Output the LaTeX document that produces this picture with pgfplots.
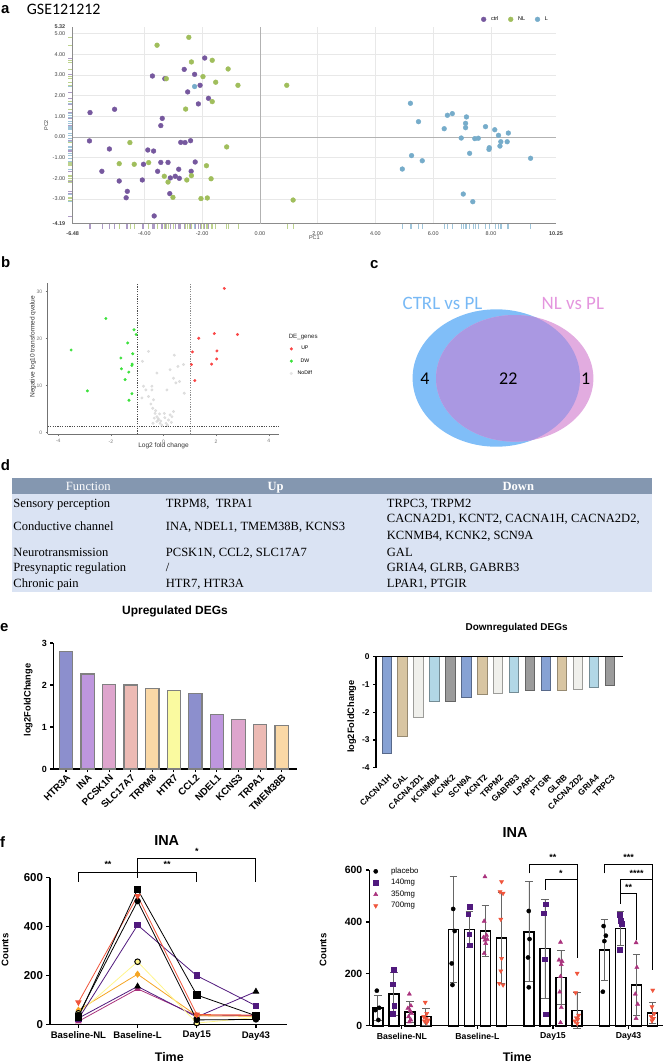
\documentclass[border=0pt]{standalone}
\usepackage{pgfplots}
\pgfplotsset{compat=1.18}
\usepackage{pgfplotstable}
\usepackage{fontspec}
\setmainfont{Liberation Sans}
\newfontfamily\tnr{Liberation Serif}
\newfontfamily\cali{Carlito}
\newcommand{\fs}[1]{\fontsize{#1}{#1}\selectfont}

\definecolor{cctrl}{RGB}{118,88,158}
\definecolor{cnl}{RGB}{160,190,92}
\definecolor{cl}{RGB}{118,172,202}
\definecolor{vred}{RGB}{250,70,70}
\definecolor{vgreen}{RGB}{60,225,60}
\definecolor{vgray}{RGB}{212,212,212}
\definecolor{vnblue}{RGB}{128,190,248}
\definecolor{vnpink}{RGB}{226,172,224}
\definecolor{vnpurp}{RGB}{170,152,226}
\definecolor{tctrl}{RGB}{120,185,245}
\definecolor{tnl}{RGB}{228,150,222}
\definecolor{thdr}{RGB}{132,151,176}
\definecolor{tbdy}{RGB}{218,227,243}
\definecolor{u1}{RGB}{140,143,205}
\definecolor{u2}{RGB}{190,150,222}
\definecolor{u3}{RGB}{222,165,205}
\definecolor{u4}{RGB}{236,186,180}
\definecolor{u5}{RGB}{250,216,166}
\definecolor{u6}{RGB}{250,250,160}
\definecolor{d1}{RGB}{135,162,212}
\definecolor{d2}{RGB}{216,197,162}
\definecolor{d3}{RGB}{240,240,236}
\definecolor{d4}{RGB}{178,215,230}
\definecolor{d5}{RGB}{155,155,155}
\definecolor{fpurp}{RGB}{80,25,125}
\definecolor{fmag}{RGB}{170,50,125}
\definecolor{fred}{RGB}{240,85,60}
\definecolor{forange}{RGB}{245,165,35}
\definecolor{fyel}{RGB}{255,245,140}

% ---------- panel a data ----------
\pgfplotstableread{
x y
-5.88 1.18
-5.03 1.34
-5.90 -0.19
-5.21 -0.58
-5.47 -1.66
-4.87 -2.13
-4.59 -2.63
-4.63 -2.94
-3.72 2.95
-3.29 2.82
-3.38 0.90
-3.43 0.55
-3.88 -0.63
-3.68 -0.68
-4.03 -1.32
-4.07 -2.08
-3.43 -1.23
-3.18 -1.23
-3.54 -1.66
-3.66 -3.82
-3.10 -1.98
-2.93 -1.90
-2.79 -2.00
-2.81 -1.56
-3.12 -2.74
-2.62 3.27
-2.50 2.18
-2.26 3.03
-2.07 2.50
-1.91 3.82
-1.78 1.87
-2.13 1.60
-2.74 -0.26
-2.59 -0.27
-2.40 -0.18
-2.24 -1.21
-2.38 -1.66
}\ctrltab
\pgfplotstableread{
x y
-2.46 4.82
-3.56 4.44
-2.37 3.63
-1.65 3.71
-1.10 3.29
-1.97 2.92
-3.24 2.82
-1.53 2.65
-0.76 2.50
0.93 2.50
-1.65 1.71
-2.57 1.35
-4.50 -0.27
-4.87 -1.29
-4.35 -1.32
-3.85 -1.24
-3.31 -1.90
-3.18 -2.18
-3.01 -2.92
-2.53 -2.08
-2.37 -1.87
-1.85 -1.39
-1.69 -2.02
-2.04 -2.98
-1.82 -2.95
-1.15 -0.48
1.15 -3.05
}\nltab
\pgfplotstableread{
x y
-2.26 2.44
5.21 1.63
6.49 1.05
6.66 1.13
5.49 0.74
6.38 0.40
7.15 0.97
7.12 0.66
7.12 0.45
7.81 0.50
8.13 0.35
8.26 0.08
8.60 0.19
6.97 -0.05
7.44 -0.08
7.56 -0.06
8.34 -0.23
8.56 -0.23
8.31 -0.44
7.94 -0.52
7.93 -0.60
5.25 -0.90
5.62 -1.15
7.26 -0.79
4.93 -1.55
9.37 -1.03
7.04 -2.76
7.37 -3.13
}\ltab

\begin{document}
\begin{tikzpicture}
\useasboundingbox (0,0) rectangle (664bp,-1062bp);

% ---------- panel letters ----------
\begin{scope}[every node/.style={anchor=base west, inner sep=0pt, font=\bfseries\fs{15}}]
\node at (1bp,-13bp) {a};
\node at (1bp,-267bp) {b};
\node at (370bp,-268bp) {c};
\node at (0.7bp,-470bp) {d};
\node at (0bp,-631bp) {e};
\node at (0bp,-847bp) {f};
\end{scope}
\node[anchor=base west, inner sep=0pt, font=\cali\fs{16}] at (26.7bp,-14bp) {GSE121212};

% ---------- panel a ----------
\begin{axis}[at={(72.7bp,-223.6bp)}, anchor=south west, scale only axis,
  width=483.3bp, height=196.6bp,
  xmin=-6.48, xmax=10.25, ymin=-4.19, ymax=5.32, clip=false,
  axis x line*=bottom, axis y line*=left,
  axis line style={black!45, line width=0.4bp},
  xtick={-4,-2,0,2,4,6,8},
  xticklabels={-4.00,-2.00,0.00,2.00,4.00,6.00,8.00},
  extra x ticks={-6.48,10.25},
  extra x tick labels={\textbf{-6.48},\textbf{10.25}},
  extra x tick style={grid=none},
  ytick={-3,-2,-1,0,1,2,3,4,5},
  yticklabels={-3.00,-2.00,-1.00,0.00,1.00,2.00,3.00,4.00,5.00},
  extra y ticks={-4.19,5.32},
  extra y tick labels={\textbf{-4.19},\textbf{5.32}},
  extra y tick style={grid=none},
  grid=major, major grid style={black!9, line width=0.4bp},
  major tick length=0pt,
  tick label style={font=\fs{5.5}, text=black!75},
  xticklabel style={yshift=-4.5bp},
  yticklabel style={xshift=-4bp},
  xlabel={PC1}, ylabel={PC2},
  xlabel style={at={(axis description cs:0.5,-0.073)}, anchor=center, font=\fs{5.5}, text=black!75},
  ylabel style={at={(axis description cs:-0.055,0.5)}, anchor=center, font=\fs{5.5}, text=black!75},
  legend style={at={(axis description cs:0.845,1.039)}, anchor=west, draw=none, fill=none,
    font=\fs{5.5}, inner sep=0pt, legend columns=-1,
    /tikz/every odd column/.append style={column sep=3bp},
    /tikz/every even column/.append style={column sep=8bp}},
  legend image code/.code={\draw[#1] plot coordinates {(0bp,0bp)};},
]
\draw[black!30, line width=0.5bp] (axis cs:0,-4.19) -- (axis cs:0,5.32);
\draw[black!30, line width=0.5bp] (axis cs:-6.48,0) -- (axis cs:10.25,0);
\addplot[only marks, mark=*, mark size=2.4pt, cctrl, mark options={draw=cctrl}] table {\ctrltab};
\addplot[only marks, mark=*, mark size=2.4pt, cnl, mark options={draw=cnl}] table {\nltab};
\addplot[only marks, mark=*, mark size=2.4pt, cl, mark options={draw=cl}] table {\ltab};
\legend{ctrl,NL,L}
\addplot[only marks, mark=|, mark size=2.1pt, cctrl!60, forget plot, mark options={line width=0.5bp}] table[x=x, y expr=-4.33] {\ctrltab};
\addplot[only marks, mark=|, mark size=2.1pt, cnl!70, forget plot, mark options={line width=0.5bp}] table[x=x, y expr=-4.33] {\nltab};
\addplot[only marks, mark=|, mark size=2.1pt, cl!70, forget plot, mark options={line width=0.5bp}] table[x=x, y expr=-4.33] {\ltab};
\addplot[only marks, mark=-, mark size=1.7pt, cctrl!60, forget plot, mark options={line width=0.5bp}] table[x expr=-6.58, y=y] {\ctrltab};
\addplot[only marks, mark=-, mark size=1.7pt, cnl!70, forget plot, mark options={line width=0.5bp}] table[x expr=-6.58, y=y] {\nltab};
\addplot[only marks, mark=-, mark size=1.7pt, cl!70, forget plot, mark options={line width=0.5bp}] table[x expr=-6.58, y=y] {\ltab};
\end{axis}

% ---------- panel b : volcano ----------
\begin{axis}[at={(47.7bp,-434bp)}, anchor=south west, scale only axis,
  width=231.6bp, height=151bp,
  xmin=-4.4, xmax=4.4, ymin=-0.28, ymax=31.86, clip=false,
  axis x line*=bottom, axis y line*=left,
  axis line style={black!55, line width=0.5bp},
  tick style={black!55, line width=0.5bp}, tick align=outside, major tick length=2bp,
  xtick={-4,-2,0,2,4}, xticklabels={-4,-2,0,2,4},
  ytick={0,10,20,30}, yticklabels={0,10,20,30},
  tick label style={font=\fs{5}, text=black!55},
  xlabel={Log2 fold change}, ylabel={Negative log10 transformed qvalue},
  xlabel style={at={(axis description cs:0.5,-0.079)}, anchor=center, font=\fs{6.6}, text=black!80},
  ylabel style={at={(axis description cs:-0.0635,0.578)}, anchor=center, font=\fs{6.6}, text=black!80},
  legend style={at={(axis description cs:1.045,0.595)}, anchor=north west, draw=none, fill=none,
    font=\fs{5.2}, row sep=3.2bp, inner sep=0pt,
    /tikz/every odd column/.append style={column sep=3bp}},
  legend image code/.code={\draw[#1] plot coordinates {(0bp,0bp)};},
]
\addlegendimage{only marks, mark=*, mark size=1.4pt, vred}
\addlegendentry{UP}
\addlegendimage{only marks, mark=*, mark size=1.4pt, vgreen}
\addlegendentry{DW}
\addlegendimage{only marks, mark=*, mark size=1.4pt, vgray!60}
\addlegendentry{NoDiff}
\draw[black!70, line width=0.45bp, dash pattern=on 1.2bp off 1.2bp] (axis cs:-1,-0.28) -- (axis cs:-1,31.86);
\draw[black!45, line width=0.45bp, dash pattern=on 1.2bp off 1.2bp] (axis cs:1,-0.28) -- (axis cs:1,31.86);
\draw[black!70, line width=0.45bp, dash pattern=on 1.2bp off 1.2bp] (axis cs:-4.4,1.3) -- (axis cs:4.4,1.3);
\addplot[only marks, mark=*, mark size=1.3pt, vgray, opacity=0.7, forget plot] coordinates {
(-0.80,15.2) (-0.57,17.3) (0.41,16.5) (-0.76,9.9) (-0.67,9.1) (-0.57,7.7) (-0.48,6.1)
(-0.41,5.2) (-0.32,4.1) (-0.25,3.4) (-0.19,2.7) (-0.13,2.0) (-0.25,2.4) (-0.35,3.1)
(-0.06,1.6) (0.32,3.4) (0.25,3.8) (0.38,4.5) (0.38,11.6) (0.47,10.6) (0.61,10.9)
(0.79,8.4) (0.76,14.5) (0.13,9.1) (-0.82,7.4) (-0.38,7.0) (0.25,13.4) (-0.44,9.1)
(0.03,4.1) (-0.15,4.0) (0.19,2.7) (-0.30,4.7) (0.10,2.0) (-0.44,9.9) (-0.25,12.7)
(0.55,14.1) (-0.20,3.0) (-0.10,2.5) (0.05,3.2) (0.30,2.2) (-0.40,2.0) (0.15,1.6)};
\addplot[only marks, mark=*, mark size=1.3pt, vgreen, forget plot] coordinates {
(-2.19,24.3) (-3.51,17.6) (-2.89,8.9) (-1.12,21.9) (-1.04,20.9) (-1.36,19.1)
(-1.62,15.9) (-1.17,16.8) (-1.60,13.6) (-1.19,14.6) (-1.20,14.3) (-1.32,12.9)
(-1.46,11.3) (-1.20,8.3) (-1.31,6.9)};
\addplot[only marks, mark=*, mark size=1.3pt, vred, forget plot] coordinates {
(2.31,30.7) (1.93,21.1) (2.81,20.9) (1.34,20.1) (1.10,17.2) (2.03,17.4)
(2.02,15.7) (1.83,14.6) (1.06,14.5) (1.19,11.1)};
\node[anchor=west, inner sep=0pt, font=\fs{6.2}, text=black!85] at (axis description cs:1.04,0.64) {DE\_genes};
\end{axis}

% ---------- panel c : Venn ----------
\begin{axis}[at={(380bp,-460bp)}, anchor=south west, x=1bp, y=1bp,
  xmin=380, xmax=620, ymin=-460, ymax=-290, hide axis, clip=false]
\fill[vnblue] (axis cs:496.3,-378) ellipse [x radius=83.7bp, y radius=68.7bp];
\fill[vnpink] (axis cs:514.7,-378.3) ellipse [x radius=78.7bp, y radius=63.3bp];
\begin{scope}
\clip (axis cs:496.3,-378) ellipse [x radius=83.7bp, y radius=68.7bp];
\fill[vnpurp] (axis cs:514.7,-378.3) ellipse [x radius=78.7bp, y radius=63.3bp];
\end{scope}
\node[anchor=base, inner sep=0pt, font=\cali\fs{19}, text=tctrl] at (axis cs:442.5,-309.3) {CTRL vs PL};
\node[anchor=base, inner sep=0pt, font=\cali\fs{19}, text=tnl] at (axis cs:572.8,-309.3) {NL vs PL};
\node[anchor=base, inner sep=0pt, font=\cali\fs{18}] at (axis cs:425,-384) {4};
\node[anchor=base, inner sep=0pt, font=\cali\fs{18}] at (axis cs:508.3,-384) {22};
\node[anchor=base, inner sep=0pt, font=\cali\fs{18}] at (axis cs:585.7,-384) {1};
\end{axis}

% ---------- panel d : table ----------
\fill[thdr] (12.3bp,-477.7bp) rectangle (651.7bp,-493.7bp);
\fill[tbdy] (12.3bp,-493.7bp) rectangle (651.7bp,-591.7bp);
\begin{scope}[every node/.style={inner sep=0pt, font=\tnr\fs{12.6}}]
\node[anchor=base, text=white] at (88.3bp,-490bp) {Function};
\node[anchor=base, text=white, font=\tnr\bfseries\fs{12.6}] at (275.7bp,-490bp) {Up};
\node[anchor=base, text=white, font=\tnr\bfseries\fs{12.6}] at (518.3bp,-490bp) {Down};
\node[anchor=base west] at (13.3bp,-507.5bp) {Sensory perception};
\node[anchor=base west] at (165.7bp,-507.5bp) {TRPM8,\ \ TRPA1};
\node[anchor=base west] at (386.7bp,-507.5bp) {TRPC3, TRPM2};
\node[anchor=base west] at (13.3bp,-530.9bp) {Conductive channel};
\node[anchor=base west] at (165.7bp,-530.9bp) {INA, NDEL1, TMEM38B, KCNS3};
\node[anchor=base west] at (386.7bp,-522.5bp) {CACNA2D1, KCNT2, CACNA1H, CACNA2D2,};
\node[anchor=base west] at (386.7bp,-539.2bp) {KCNMB4, KCNK2, SCN9A};
\node[anchor=base west] at (13.3bp,-556.2bp) {Neurotransmission};
\node[anchor=base west] at (165.7bp,-556.2bp) {PCSK1N, CCL2, SLC17A7};
\node[anchor=base west] at (386.7bp,-556.2bp) {GAL};
\node[anchor=base west] at (13.3bp,-571.9bp) {Presynaptic regulation};
\node[anchor=base west] at (165.7bp,-571.9bp) {/};
\node[anchor=base west] at (386.7bp,-571.9bp) {GRIA4, GLRB, GABRB3};
\node[anchor=base west] at (13.3bp,-587.8bp) {Chronic pain};
\node[anchor=base west] at (165.7bp,-587.8bp) {HTR7, HTR3A};
\node[anchor=base west] at (386.7bp,-587.8bp) {LPAR1, PTGIR};
\end{scope}

% ---------- panel e left ----------
\begin{axis}[at={(53.3bp,-769bp)}, anchor=south west, scale only axis,
  width=243.4bp, height=126bp,
  xmin=-0.59, xmax=10.7, ymin=0, ymax=3, clip=false,
  axis x line*=bottom, axis y line*=left,
  axis line style={line width=1.3bp},
  tick style={line width=1.1bp, black}, tick align=outside, major tick length=3bp,
  xtick={0,1,2,3,4,5,6,7,8,9,10},
  xticklabels={HTR3A,INA,PCSK1N,SLC17A7,TRPM8,HTR7,CCL2,NDEL1,KCNS3,TRPA1,TMEM38B},
  xticklabel style={rotate=45, anchor=north east, inner sep=1bp, font=\bfseries\fs{9.8}},
  ytick={0,1,2,3}, yticklabels={0,1,2,3},
  yticklabel style={font=\bfseries\fs{9}},
  ylabel={log2FoldChange},
  ylabel style={at={(axis description cs:-0.103,0.548)}, anchor=center, font=\bfseries\fs{9.3}},
  title={Upregulated DEGs},
  title style={at={(axis description cs:0.5,1.2)}, anchor=center, font=\bfseries\fs{12}},
]
\pgfplotsset{ebar/.style={ybar, bar width=13.3bp, bar shift=0pt, draw=black!50, line width=1.2bp}}
\addplot[ebar, fill=u1] coordinates {(0,2.79)};
\addplot[ebar, fill=u2] coordinates {(1,2.26)};
\addplot[ebar, fill=u3] coordinates {(2,2.01)};
\addplot[ebar, fill=u4] coordinates {(3,2.00)};
\addplot[ebar, fill=u5] coordinates {(4,1.92)};
\addplot[ebar, fill=u6] coordinates {(5,1.87)};
\addplot[ebar, fill=u1] coordinates {(6,1.79)};
\addplot[ebar, fill=u2] coordinates {(7,1.29)};
\addplot[ebar, fill=u3] coordinates {(8,1.17)};
\addplot[ebar, fill=u4] coordinates {(9,1.06)};
\addplot[ebar, fill=u5] coordinates {(10,1.03)};
\end{axis}

% ---------- panel e right ----------
\begin{axis}[at={(376bp,-767.7bp)}, anchor=south west, scale only axis,
  width=246.7bp, height=111bp,
  xmin=-0.67, xmax=14.8, ymin=-4, ymax=0, clip=false,
  axis x line*=bottom, axis y line*=left,
  x axis line style={draw=none}, y axis line style={line width=1.3bp},
  xtick style={draw=none},
  ytick style={line width=1.1bp, black}, tick align=outside, major tick length=3bp,
  xtick={0,...,14},
  xticklabels={CACNA1H,GAL,CACNA2D1,KCNMB4,KCNK2,SCN9A,KCNT2,TRPM2,GABRB3,LPAR1,PTGIR,GLRB,CACNA2D2,GRIA4,TRPC3},
  xticklabel style={rotate=45, anchor=north east, inner sep=1bp, yshift=-2bp, font=\bfseries\fs{8.4}},
  ytick={-4,-3,-2,-1,0}, yticklabels={-4,-3,-2,-1,0},
  yticklabel style={font=\bfseries\fs{8.4}},
  ylabel={log2FoldChange},
  ylabel style={at={(axis description cs:-0.0985,0.46)}, anchor=center, font=\bfseries\fs{9.3}},
  title={Downregulated DEGs},
  title style={at={(axis description cs:0.57,1.205)}, anchor=center, font=\bfseries\fs{10}},
]
\pgfplotsset{dbar/.style={ybar, bar width=9.3bp, bar shift=0pt, line width=1bp}}
\addplot[dbar, fill=d1, draw=d1!65!black] coordinates {(0,-3.50)};
\addplot[dbar, fill=d2, draw=d2!70!black] coordinates {(1,-2.88)};
\addplot[dbar, fill=d3, draw=d3!65!black] coordinates {(2,-2.20)};
\addplot[dbar, fill=d4, draw=d4!65!black] coordinates {(3,-1.61)};
\addplot[dbar, fill=d5, draw=d5!65!black] coordinates {(4,-1.60)};
\addplot[dbar, fill=d1, draw=d1!65!black] coordinates {(5,-1.47)};
\addplot[dbar, fill=d2, draw=d2!70!black] coordinates {(6,-1.35)};
\addplot[dbar, fill=d3, draw=d3!65!black] coordinates {(7,-1.32)};
\addplot[dbar, fill=d4, draw=d4!65!black] coordinates {(8,-1.30)};
\addplot[dbar, fill=d5, draw=d5!65!black] coordinates {(9,-1.21)};
\addplot[dbar, fill=d1, draw=d1!65!black] coordinates {(10,-1.20)};
\addplot[dbar, fill=d2, draw=d2!70!black] coordinates {(11,-1.20)};
\addplot[dbar, fill=d3, draw=d3!65!black] coordinates {(12,-1.18)};
\addplot[dbar, fill=d4, draw=d4!65!black] coordinates {(13,-1.10)};
\addplot[dbar, fill=d5, draw=d5!65!black] coordinates {(14,-1.05)};
\draw[line width=1.3bp] (axis cs:-0.67,0) -- (axis cs:14.8,0);
\end{axis}

% ---------- panel f left ----------
\begin{axis}[at={(50bp,-1024.3bp)}, anchor=south west, scale only axis,
  width=236.7bp, height=146.7bp,
  xmin=-0.48, xmax=3.52, ymin=0, ymax=600, clip=false,
  axis x line*=bottom, axis y line*=left,
  axis line style={line width=1.4bp},
  tick style={line width=1.2bp, black}, tick align=outside, major tick length=3.5bp,
  xtick={0,1,2,3}, xticklabels={Baseline-NL,Baseline-L,Day15,Day43},
  xticklabel style={font=\bfseries\fs{9.6}},
  ytick={0,200,400,600}, yticklabels={0,200,400,600},
  yticklabel style={font=\bfseries\fs{11.5}},
  xlabel={Time}, ylabel={Counts},
  xlabel style={at={(axis description cs:0.504,-0.221)}, anchor=center, font=\bfseries\fs{12.5}},
  ylabel style={at={(axis description cs:-0.19,0.506)}, anchor=center, font=\bfseries\fs{9.6}},
  title={INA},
  title style={at={(axis description cs:0.493,1.211)}, anchor=center, font=\bfseries\fs{14.5}},
]
\addplot[fmag, line width=0.8bp, mark=triangle*, mark size=3bp, mark options={fill=fmag}] coordinates {(0,12) (1,145) (2,35) (3,36)};
\addplot[fpurp, line width=0.8bp, mark=triangle*, mark size=3.2bp, mark options={fill=black, draw=black}] coordinates {(0,25) (1,155) (2,30) (3,134)};
\addplot[forange, line width=0.8bp, mark=diamond*, mark size=3bp] coordinates {(0,58) (1,205) (2,35) (3,33)};
\addplot[fyel, line width=0.8bp, mark=*, mark size=2.8bp, mark options={fill=fyel, draw=black, line width=1bp}] coordinates {(0,45) (1,256) (2,5) (3,28)};
\addplot[fpurp, line width=0.8bp, mark=square*, mark size=2.8bp] coordinates {(0,22) (1,406) (2,199) (3,76)};
\addplot[black, line width=0.8bp, mark=*, mark size=2.8bp] coordinates {(0,38) (1,504) (2,18) (3,20)};
\addplot[fred, line width=0.8bp, mark=triangle*, mark size=3bp, mark options={rotate=180}] coordinates {(0,90) (1,525) (2,40) (3,38)};
\addplot[black, line width=0.8bp, mark=square*, mark size=3.2bp] coordinates {(0,30) (1,552) (2,120) (3,35)};
\draw[line width=0.9bp] (axis cs:0,583) -- (axis cs:0,622) -- (axis cs:2,622) -- (axis cs:2,583);
\draw[line width=0.9bp] (axis cs:1,600) -- (axis cs:1,679) -- (axis cs:3,679) -- (axis cs:3,583);
\node[font=\bfseries\fs{9}] at (axis cs:0.5,652) {**};
\node[font=\bfseries\fs{9}] at (axis cs:1.5,652) {**};
\node[font=\bfseries\fs{9}] at (axis cs:2,706) {*};
\end{axis}

% ---------- panel f right ----------
\begin{axis}[at={(369.3bp,-1025.7bp)}, anchor=south west, scale only axis,
  width=294bp, height=155.7bp,
  xmin=-0.43, xmax=3.46, ymin=0, ymax=600, clip=false,
  axis x line*=bottom, axis y line*=left,
  axis line style={line width=1.4bp},
  tick style={line width=1.2bp, black}, tick align=outside, major tick length=3.5bp,
  xtick={0,1,2,3}, xticklabels={Baseline-NL,Baseline-L,Day15,Day43},
  xticklabel style={font=\bfseries\fs{8.7}},
  ytick={0,200,400,600}, yticklabels={0,200,400,600},
  yticklabel style={font=\bfseries\fs{10.5}},
  xlabel={Time}, ylabel={Counts},
  xlabel style={at={(axis description cs:0.503,-0.199)}, anchor=center, font=\bfseries\fs{12.5}},
  ylabel style={at={(axis description cs:-0.157,0.486)}, anchor=center, font=\bfseries\fs{9.6}},
  title={INA},
  title style={at={(axis description cs:0.496,1.204)}, anchor=center, font=\bfseries\fs{14.5}},
  legend style={at={(axis description cs:0.01,1.035)}, anchor=north west, draw=none, fill=none,
    font=\fs{7.9}, row sep=0.5bp, inner sep=1bp,
    /tikz/every odd column/.append style={column sep=11bp}},
  legend cell align=left,
  legend image code/.code={\draw[#1] plot coordinates {(0bp,0bp)};},
]
\pgfplotsset{fbar/.style={ybar, bar width=10bp, bar shift=0pt, fill=white, draw=black, line width=1.6bp, forget plot,
  error bars/.cd, y dir=both, y explicit,
  error bar style={line width=0.8bp, black!60},
  error mark options={line width=0.8bp, black!60, mark size=3.8bp, rotate=90}}}
\addplot[fbar] coordinates {(-0.318,69) +- (0,49) (0.682,371) +- (0,206) (1.682,362) +- (0,193) (2.682,292) +- (0,118)};
\addplot[fbar] coordinates {(-0.106,122) +- (0,82) (0.894,371) +- (0,68) (1.894,297) +- (0,190) (2.894,374) +- (0,65)};
\addplot[fbar] coordinates {(0.106,54) +- (0,41) (1.106,365) +- (0,97) (2.106,186) +- (0,103) (3.106,157) +- (0,116)};
\addplot[fbar] coordinates {(0.318,35) +- (0,32) (1.318,339) +- (0,175) (2.318,58) +- (0,69) (3.318,49) +- (0,40)};
\addplot[only marks, mark=*, mark size=2.1bp, black] coordinates {
(-0.33,135) (-0.30,69) (-0.35,60) (-0.31,22)
(0.68,450) (0.70,365) (0.66,240) (0.67,157)
(1.68,442) (1.69,334) (1.67,263) (1.68,148)
(2.67,384) (2.70,347) (2.68,326) (2.66,131)};
\addplot[only marks, mark=square*, mark size=2.3bp, fpurp] coordinates {
(-0.11,217) (-0.12,160) (-0.10,77) (-0.12,47)
(0.90,458) (0.88,430) (0.89,353) (0.90,311)
(1.90,469) (1.88,433) (1.89,257) (1.90,45)
(2.88,428) (2.90,405) (2.91,392) (2.88,292)};
\addplot[only marks, mark=triangle*, mark size=2.4bp, fmag] coordinates {
(0.10,122) (0.12,77) (0.08,67) (0.11,58) (0.13,47) (0.09,35) (0.12,22) (0.10,15)
(1.10,574) (1.09,403) (1.12,349) (1.08,340) (1.13,333) (1.10,330) (1.11,317) (1.09,279)
(2.10,322) (2.08,253) (2.12,248) (2.11,236) (2.10,190) (2.09,130) (2.11,70) (2.10,12)
(3.10,320) (3.11,225) (3.09,122) (3.12,83) (3.10,28)};
\addplot[only marks, mark=triangle*, mark size=2.4bp, fred, mark options={rotate=180}] coordinates {
(0.31,90) (0.33,47) (0.29,35) (0.32,28) (0.35,22) (0.30,18) (0.33,12)
(1.32,555) (1.30,516) (1.34,510) (1.31,410) (1.32,259) (1.31,211) (1.29,163) (1.34,157)
(2.32,202) (2.30,127) (2.34,40) (2.31,30) (2.33,25) (2.29,18) (2.32,8)
(3.32,137) (3.31,73) (3.34,47) (3.30,35) (3.33,28) (3.31,19)};
\legend{placebo,140mg,350mg,700mg}
\draw[line width=0.8bp] (axis cs:1.682,587) -- (axis cs:1.682,623) -- (axis cs:2.318,623) -- (axis cs:2.318,260);
\draw[line width=0.8bp] (axis cs:1.894,523) -- (axis cs:1.894,564) -- (axis cs:2.318,564);
\draw[line width=0.8bp] (axis cs:2.682,587) -- (axis cs:2.682,623) -- (axis cs:3.318,623) -- (axis cs:3.318,215);
\draw[line width=0.8bp] (axis cs:2.894,470) -- (axis cs:2.894,564) -- (axis cs:3.318,564);
\draw[line width=0.8bp] (axis cs:2.894,510) -- (axis cs:3.106,510) -- (axis cs:3.106,330);
\node[font=\bfseries\fs{9}] at (axis cs:2.0,648) {**};
\node[font=\bfseries\fs{9}] at (axis cs:2.106,588) {*};
\node[font=\bfseries\fs{9}] at (axis cs:3.0,648) {***};
\node[font=\bfseries\fs{9}] at (axis cs:3.106,588) {****};
\node[font=\bfseries\fs{9}] at (axis cs:3.0,534) {**};
\end{axis}
\end{tikzpicture}
\end{document}
